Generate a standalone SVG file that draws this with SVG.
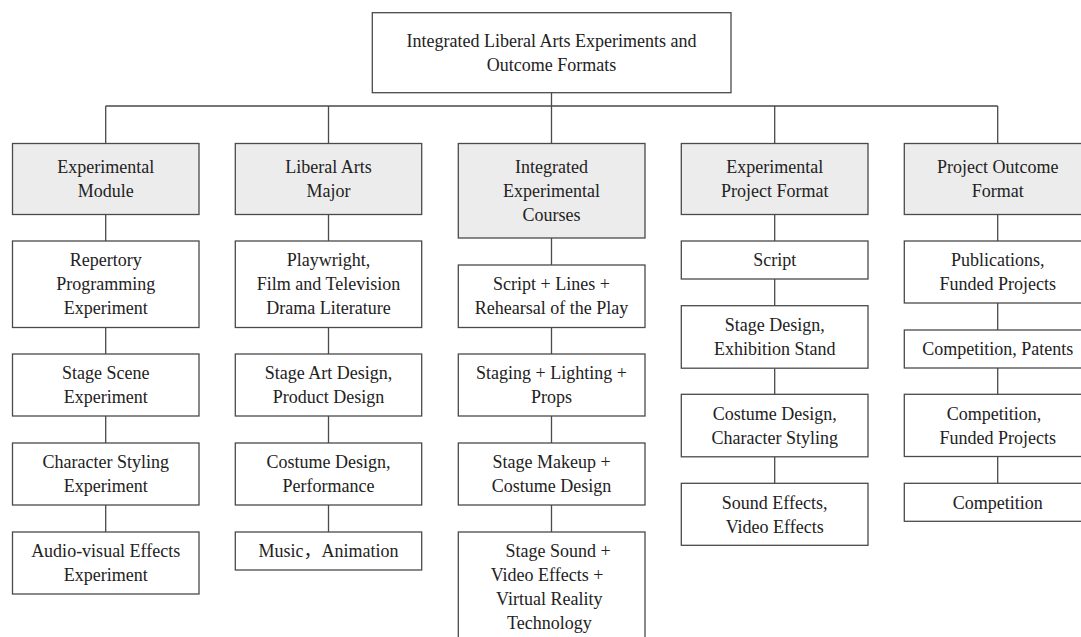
<svg xmlns="http://www.w3.org/2000/svg" width="1081" height="637" viewBox="0 0 1081 637">
<style>
.box{fill:#ffffff;stroke:#4a4a4a;stroke-width:1.3}
.hdr{fill:#ececec;stroke:#4a4a4a;stroke-width:1.3}
.ln{fill:none;stroke:#4a4a4a;stroke-width:1.3}
text{font-family:"Liberation Serif","Times New Roman","DejaVu Serif",serif;font-size:18px;fill:#222;text-anchor:middle}
.cjk{font-family:"Liberation Serif","Times New Roman","Noto Sans CJK SC",serif}
</style>
<rect width="1081" height="637" fill="#ffffff"/>
<g id="connectors">
<path class="ln" d="M551.5 92.7V106 M105.7 106H997.7 M105.7 106V143.5 M328.5 106V143.5 M551.5 106V143.5 M774.7 106V143.5 M997.7 106V143.5"/>
<path class="ln" d="M105.7 214.5V241 M105.7 327.5V354 M105.7 416V443 M105.7 505V532"/>
<path class="ln" d="M328.5 214.5V241 M328.5 327.5V354 M328.5 416V443 M328.5 505V532"/>
<path class="ln" d="M551.5 238V265 M551.5 327.5V354 M551.5 416V443 M551.5 505V532"/>
<path class="ln" d="M774.7 214.5V241 M774.7 279V305.7 M774.7 368.2V394.3 M774.7 456.8V483.3"/>
<path class="ln" d="M997.7 214.5V241 M997.7 303V330 M997.7 368V394.3 M997.7 456.5V483.3"/>
</g>
<g id="root"><rect class="box" x="372.3" y="12.7" width="358.7" height="80"/><text x="551.5" y="47">Integrated Liberal Arts Experiments and</text><text x="551.5" y="71">Outcome Formats</text></g>

<g id="h1"><rect class="hdr" x="12.5" y="143.5" width="186.5" height="71"/><text x="105.7" y="173">Experimental</text><text x="105.7" y="197">Module</text></g>
<g id="h2"><rect class="hdr" x="235.3" y="143.5" width="186.4" height="71"/><text x="328.5" y="173">Liberal Arts</text><text x="328.5" y="197">Major</text></g>
<g id="h3"><rect class="hdr" x="458.3" y="143.5" width="186.7" height="94.5"/><text x="551.5" y="173">Integrated</text><text x="551.5" y="197">Experimental</text><text x="551.5" y="221">Courses</text></g>
<g id="h4"><rect class="hdr" x="681.3" y="143.5" width="186.7" height="71"/><text x="774.7" y="173">Experimental</text><text x="774.7" y="197">Project Format</text></g>
<g id="h5"><rect class="hdr" x="904.3" y="143.5" width="186.7" height="71"/><text x="997.7" y="173">Project Outcome</text><text x="997.7" y="197">Format</text></g>

<g id="c1a"><rect class="box" x="12.5" y="241" width="186.5" height="86.5"/><text x="105.7" y="266">Repertory</text><text x="105.7" y="290">Programming</text><text x="105.7" y="314">Experiment</text></g>
<g id="c1b"><rect class="box" x="12.5" y="354" width="186.5" height="62"/><text x="105.7" y="379">Stage Scene</text><text x="105.7" y="403">Experiment</text></g>
<g id="c1c"><rect class="box" x="12.5" y="443" width="186.5" height="62"/><text x="105.7" y="468">Character Styling</text><text x="105.7" y="492">Experiment</text></g>
<g id="c1d"><rect class="box" x="12.5" y="532" width="186.5" height="62"/><text x="105.7" y="557">Audio-visual Effects</text><text x="105.7" y="581">Experiment</text></g>

<g id="c2a"><rect class="box" x="235.3" y="241" width="186.4" height="86.5"/><text x="328.5" y="266">Playwright,</text><text x="328.5" y="290">Film and Television</text><text x="328.5" y="314">Drama Literature</text></g>
<g id="c2b"><rect class="box" x="235.3" y="354" width="186.4" height="62"/><text x="328.5" y="379">Stage Art Design,</text><text x="328.5" y="403">Product Design</text></g>
<g id="c2c"><rect class="box" x="235.3" y="443" width="186.4" height="62"/><text x="328.5" y="468">Costume Design,</text><text x="328.5" y="492">Performance</text></g>
<g id="c2d"><rect class="box" x="235.3" y="532" width="186.4" height="38"/><text class="cjk" x="328.5" y="557">Music，Animation</text></g>

<g id="c3a"><rect class="box" x="458.3" y="265" width="186.7" height="62.5"/><text x="551.5" y="290">Script + Lines +</text><text x="551.5" y="314">Rehearsal of the Play</text></g>
<g id="c3b"><rect class="box" x="458.3" y="354" width="186.7" height="62"/><text x="551.5" y="379">Staging + Lighting +</text><text x="551.5" y="403">Props</text></g>
<g id="c3c"><rect class="box" x="458.3" y="443" width="186.7" height="62"/><text x="551.5" y="468">Stage Makeup +</text><text x="551.5" y="492">Costume Design</text></g>
<g id="c3d"><rect class="box" x="458.3" y="532" width="186.7" height="120"/><text x="558" y="557">Stage Sound +</text><text x="547" y="581">Video Effects +</text><text x="549.3" y="605">Virtual Reality</text><text x="549.3" y="629">Technology</text></g>

<g id="c4a"><rect class="box" x="681.3" y="241" width="186.7" height="38"/><text x="774.7" y="266">Script</text></g>
<g id="c4b"><rect class="box" x="681.3" y="305.7" width="186.7" height="62.5"/><text x="774.7" y="331">Stage Design,</text><text x="774.7" y="355">Exhibition Stand</text></g>
<g id="c4c"><rect class="box" x="681.3" y="394.3" width="186.7" height="62.5"/><text x="774.7" y="419.5">Costume Design,</text><text x="774.7" y="443.5">Character Styling</text></g>
<g id="c4d"><rect class="box" x="681.3" y="483.3" width="186.7" height="62"/><text x="774.7" y="508.5">Sound Effects,</text><text x="774.7" y="532.5">Video Effects</text></g>

<g id="c5a"><rect class="box" x="904.3" y="241" width="186.7" height="62"/><text x="997.7" y="266">Publications,</text><text x="997.7" y="290">Funded Projects</text></g>
<g id="c5b"><rect class="box" x="904.3" y="330" width="186.7" height="38"/><text x="997.7" y="355">Competition, Patents</text></g>
<g id="c5c"><rect class="box" x="904.3" y="394.3" width="186.7" height="62.2"/><text x="994" y="419.5">Competition,</text><text x="997.7" y="443.5">Funded Projects</text></g>
<g id="c5d"><rect class="box" x="904.3" y="483.3" width="186.7" height="38"/><text x="997.7" y="508.5">Competition</text></g>
</svg>
